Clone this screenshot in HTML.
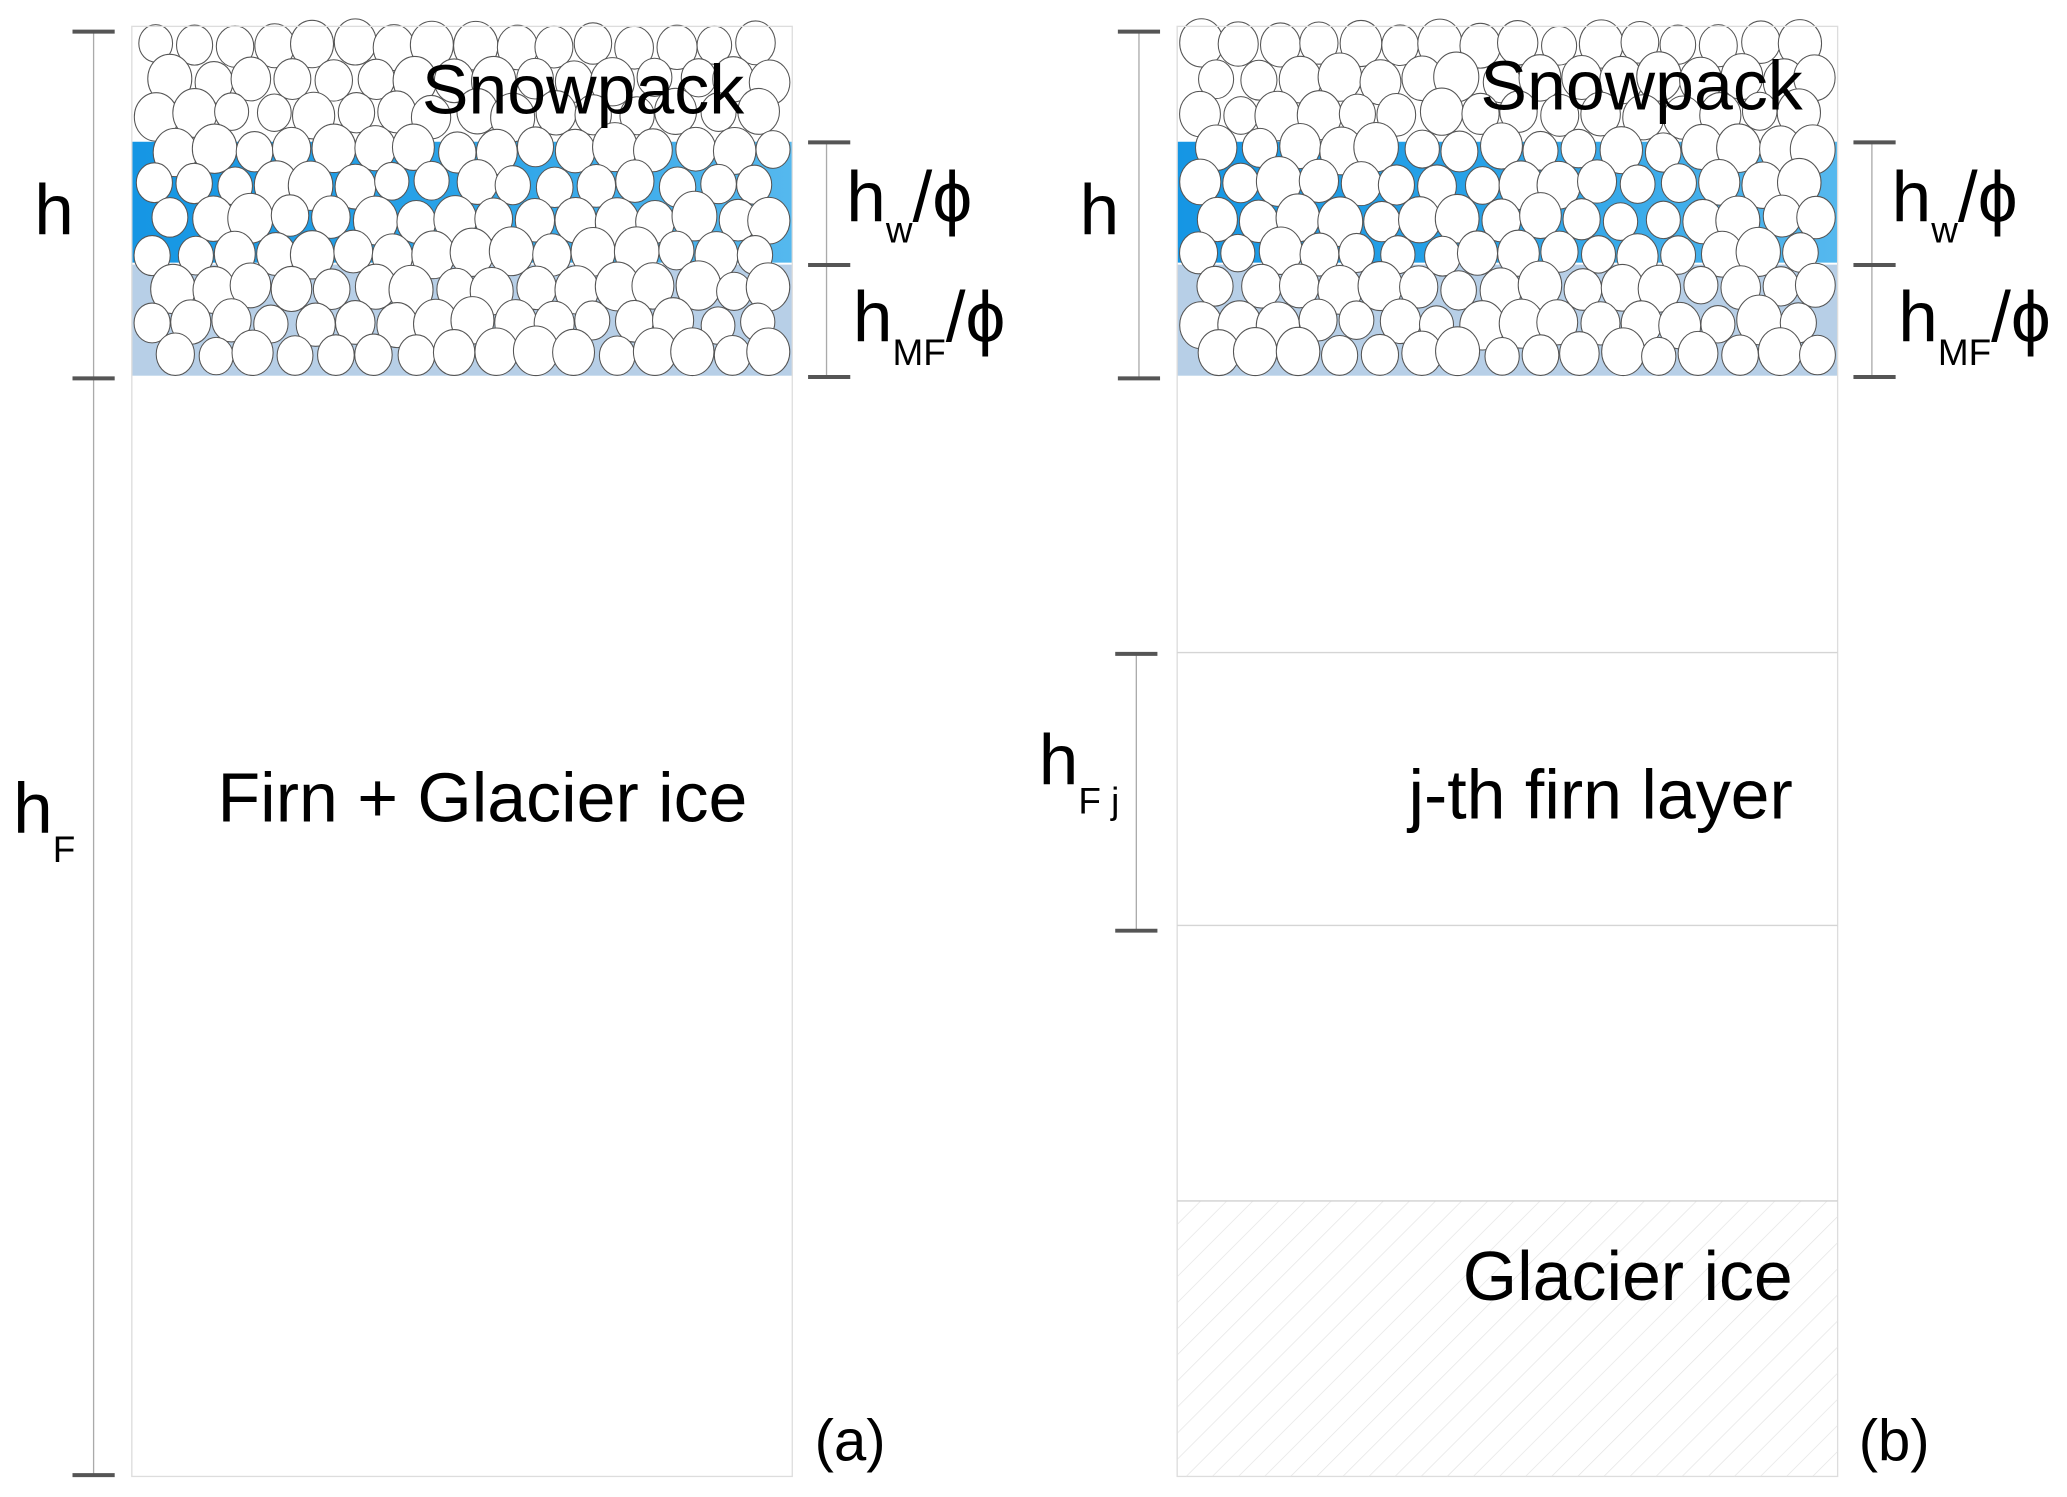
<!DOCTYPE html>
<html><head><meta charset="utf-8"><style>
html,body{margin:0;padding:0;background:#fff;}
svg{display:block;}
text{font-family:"Liberation Sans",sans-serif;fill:#000;}
</style></head><body>
<svg id="s" width="2067" height="1497" viewBox="0 0 1568 1135.6" xmlns="http://www.w3.org/2000/svg">
<defs>
<linearGradient id="bl" x1="0" x2="1" y1="0" y2="0">
<stop offset="0" stop-color="#1596e4"/><stop offset="0.5" stop-color="#2aa3e8"/><stop offset="1" stop-color="#55b8ee"/>
</linearGradient>
<pattern id="hatch" width="14" height="14" patternUnits="userSpaceOnUse" patternTransform="rotate(45)">
<line x1="0" y1="0" x2="0" y2="14" stroke="#e2e2e2" stroke-width="1"/>
</pattern>
</defs>
<g id="panels"></g>
<rect x="100" y="20" width="501" height="1100" fill="none" stroke="#ddd" stroke-width="1"/>
<rect x="893" y="20" width="501" height="1100" fill="none" stroke="#ddd" stroke-width="1"/>
<rect x="893" y="911" width="501" height="209" fill="url(#hatch)"/>
<line x1="893" y1="495" x2="1394" y2="495" stroke="#d5d5d5"/>
<line x1="893" y1="702" x2="1394" y2="702" stroke="#d5d5d5"/>
<line x1="893" y1="911" x2="1394" y2="911" stroke="#d0d0d0"/>
<g stroke="#aaa" stroke-width="1">
<line x1="71" y1="24" x2="71" y2="1119"/>
<line x1="627" y1="108" x2="627" y2="286"/>
<line x1="864" y1="24" x2="864" y2="287"/>
<line x1="1420" y1="108" x2="1420" y2="286"/>
<line x1="862" y1="496" x2="862" y2="706"/>
</g>
<g stroke="#555" stroke-width="3">
<line x1="55" y1="24" x2="87" y2="24"/><line x1="55" y1="287" x2="87" y2="287"/><line x1="55" y1="1119" x2="87" y2="1119"/>
<line x1="613" y1="108" x2="645" y2="108"/><line x1="613" y1="201" x2="645" y2="201"/><line x1="613" y1="286" x2="645" y2="286"/>
<line x1="848" y1="24" x2="880" y2="24"/><line x1="848" y1="287" x2="880" y2="287"/>
<line x1="1406" y1="108" x2="1438" y2="108"/><line x1="1406" y1="201" x2="1438" y2="201"/><line x1="1406" y1="286" x2="1438" y2="286"/>
<line x1="846" y1="496" x2="878" y2="496"/><line x1="846" y1="706" x2="878" y2="706"/>
</g>
<g id="labels">
<text x="320" y="86" font-size="53">Snowpack</text>
<text x="1123" y="83" font-size="53">Snowpack</text>
<text x="26" y="178" font-size="54">h</text>
<text x="819" y="178" font-size="54">h</text>
<text x="642" y="168" font-size="54">h<tspan font-size="28" dy="16">w</tspan><tspan dy="-16">/ϕ</tspan></text>
<text x="1435" y="168" font-size="54">h<tspan font-size="28" dy="16">w</tspan><tspan dy="-16">/ϕ</tspan></text>
<text x="647" y="259" font-size="54">h<tspan font-size="28" dy="18">MF</tspan><tspan dy="-18">/ϕ</tspan></text>
<text x="1440" y="259" font-size="54">h<tspan font-size="28" dy="18">MF</tspan><tspan dy="-18">/ϕ</tspan></text>
<text x="10" y="632" font-size="54">h<tspan font-size="28" dy="22">F</tspan></text>
<text x="788" y="595" font-size="54">h<tspan font-size="28" dy="22">F j</tspan></text>
<text x="165" y="623" font-size="53">Firn + Glacier ice</text>
<text x="1360" y="621" font-size="53" text-anchor="end">j-th firn layer</text>
<text x="1360" y="986" font-size="53" text-anchor="end">Glacier ice</text>
<text x="618" y="1108" font-size="44">(a)</text>
<text x="1410" y="1108" font-size="44">(b)</text>
</g>
</svg>
<script>
(function(){
var NS="http://www.w3.org/2000/svg",g=document.getElementById("panels");
function el(n,a){var e=document.createElementNS(NS,n);for(var k in a)e.setAttribute(k,a[k]);g.appendChild(e);return e;}
var seed=7;function r(){seed=(seed*16807)%2147483647;return seed/2147483647;}
[100,893].forEach(function(x0){
 el("rect",{x:x0,y:107,width:501,height:93,fill:"url(#bl)"});
 el("rect",{x:x0,y:200,width:501,height:85,fill:"#b7cfe7"});
 el("line",{x1:x0,y1:200,x2:x0+501,y2:200,stroke:"#fff","stroke-width":1.5});
 el("line",{x1:x0,y1:107,x2:x0+501,y2:107,stroke:"#fff","stroke-width":1});
 var row=0;
 for(var y=34;y<=272;y+=26.4){
  var off=(row%2)?15:0;
  for(var x=x0+16+off;x<=x0+492;x+=30.5){
   var rad=13.5+r()*4.5;
   var cx=x+(r()-0.5)*5, cy=y+(r()-0.5)*5;
   if(cy+rad>284)cy=284-rad;
   if(cx-rad<x0+1)cx=x0+1+rad;
   if(cx+rad>x0+500)cx=x0+500-rad;
   el("ellipse",{cx:cx.toFixed(1),cy:cy.toFixed(1),rx:(rad*0.95).toFixed(1),ry:(rad*1.05).toFixed(1),fill:"#fff",stroke:"#555","stroke-width":0.8});
  }
  row++;
 }
});
})();
</script>
</body></html>
